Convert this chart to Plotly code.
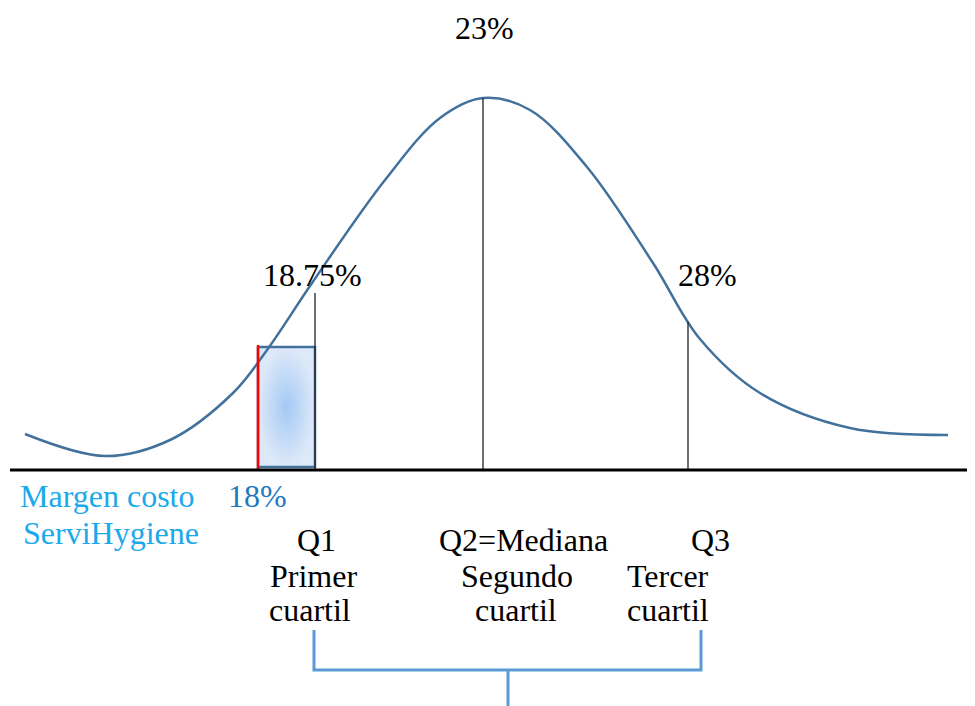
import plotly.graph_objects as go

# Curve (diagram coordinates, pixel-like)
curve_x = [25, 105, 170, 233, 267, 312, 385, 440, 483, 530, 587, 653, 700, 760, 850, 948]
curve_y = [434, 456, 440, 393, 350, 283, 180, 118, 98, 110, 167, 263, 339, 393, 428, 435]

# Quartile markers
q_x = [315, 483, 688]
q_top = [293, 98, 322]
q_values = ["18.75%", "23%", "28%"]
q_value_pos = [(312, 275), (484, 28), (707, 275)]

cost_x = 258
cost_label = "18%"

BLACK = "#000000"
CURVE = "#41719C"
BRACKET = "#5B9BD5"
FONT = "Liberation Serif, Times New Roman, serif"

fig = go.Figure()

# Gradient rectangle
fig.add_trace(go.Scatter(
    x=[cost_x, q_x[0], q_x[0], cost_x, cost_x],
    y=[347, 347, 467, 467, 347],
    mode="lines", fill="toself",
    fillgradient=dict(type="radial", colorscale=[[0, "#a4c9f4"], [1, "#dde9f9"]]),
    line=dict(color=CURVE, width=2.5), hoverinfo="skip", showlegend=False))

# Curve
fig.add_trace(go.Scatter(x=curve_x, y=curve_y, mode="lines",
                         line=dict(color=CURVE, width=2.5, shape="spline", smoothing=1.0),
                         hoverinfo="skip", showlegend=False))

# Quartile vertical lines
for x, t in zip(q_x, q_top):
    fig.add_trace(go.Scatter(x=[x, x], y=[t, 470], mode="lines",
                             line=dict(color="#222222", width=1.3),
                             hoverinfo="skip", showlegend=False))

# Red cost line
fig.add_trace(go.Scatter(x=[cost_x, cost_x], y=[345, 470], mode="lines",
                         line=dict(color="#ff0000", width=2.5),
                         hoverinfo="skip", showlegend=False))

# Baseline
fig.add_trace(go.Scatter(x=[10, 975], y=[470, 470], mode="lines",
                         line=dict(color=BLACK, width=3),
                         hoverinfo="skip", showlegend=False))

# Bracket
fig.add_trace(go.Scatter(x=[314, 314, 701, 701], y=[630, 670, 670, 630], mode="lines",
                         line=dict(color=BRACKET, width=3),
                         hoverinfo="skip", showlegend=False))
fig.add_trace(go.Scatter(x=[508, 508], y=[670, 710], mode="lines",
                         line=dict(color=BRACKET, width=3),
                         hoverinfo="skip", showlegend=False))

def txt(x, y, s, color=BLACK):
    fig.add_annotation(x=x, y=y, text=s, showarrow=False, xanchor="center", yanchor="middle",
                       font=dict(family=FONT, size=32, color=color))

for s, (x, y) in zip(q_values, q_value_pos):
    txt(x, y, s)

txt(107, 496, "Margen costo", "#1AA9EA")
txt(111, 533, "ServiHygiene", "#1AA9EA")
txt(257, 496, cost_label, "#1F78C0")

txt(316, 540, "Q1")
txt(313, 576, "Primer")
txt(310, 610, "cuartil")
txt(523, 540, "Q2=Mediana")
txt(517, 576, "Segundo")
txt(516, 610, "cuartil")
txt(710, 540, "Q3")
txt(668, 576, "Tercer")
txt(668, 610, "cuartil")

# Page body has an 8px margin; shift ranges so data units equal page pixels
fig.update_layout(
    width=967, height=698, margin=dict(l=0, r=0, t=0, b=0),
    paper_bgcolor="white", plot_bgcolor="white",
    xaxis=dict(range=[8, 975], visible=False, fixedrange=True),
    yaxis=dict(range=[706, 8], visible=False, fixedrange=True),
)

fig.write_html("out.html")
